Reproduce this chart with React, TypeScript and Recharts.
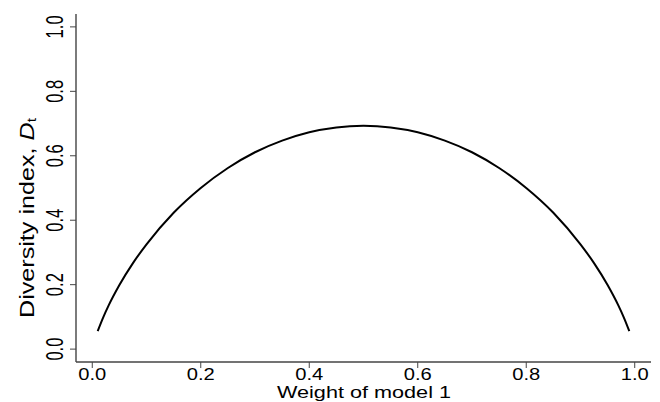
import React from "react";
import { LineChart, Line, XAxis, YAxis } from "recharts";

const weights = [0.01, 0.02, 0.03, 0.05, 0.075, 0.1, 0.15, 0.2, 0.25, 0.3, 0.35, 0.4, 0.45, 0.5, 0.55, 0.6, 0.65, 0.7, 0.75, 0.8, 0.85, 0.9, 0.925, 0.95, 0.97, 0.98, 0.99];
const diversity = [0.056, 0.098, 0.135, 0.199, 0.267, 0.325, 0.423, 0.5, 0.562, 0.611, 0.647, 0.673, 0.688, 0.693, 0.688, 0.673, 0.647, 0.611, 0.562, 0.5, 0.423, 0.325, 0.267, 0.199, 0.135, 0.098, 0.056];
const xTicks = [0, 0.2, 0.4, 0.6, 0.8, 1.0];
const yTicks = [0, 0.2, 0.4, 0.6, 0.8, 1.0];

const data = weights.map((w, i) => ({ w, d: diversity[i] }));

const FONT = "Liberation Sans, Arial, sans-serif";
const AXIS = "#444";

const XTick = (props: any) => {
  const { x, y, payload } = props;
  return (
    <text x={x} y={y + 10} textAnchor="middle" fontFamily={FONT} fontSize={16} fill="#000" textLength={28} lengthAdjust="spacingAndGlyphs">
      {payload.value.toFixed(1)}
    </text>
  );
};

const YTick = (props: any) => {
  const { x, y, payload } = props;
  return (
    <text transform={`translate(${x - 13},${y}) rotate(-90)`} textAnchor="middle" dominantBaseline="central" fontFamily={FONT} fontSize={23} fill="#000" textLength={23} lengthAdjust="spacingAndGlyphs">
      {payload.value.toFixed(1)}
    </text>
  );
};

export default function App() {
  return (
    <div style={{ position: "absolute", left: 0, top: 0, width: 660, height: 402, background: "#fff" }}>
      <LineChart width={660} height={402} data={data} margin={{ top: 14, right: 9, left: 0, bottom: 0 }}>
        <XAxis xAxisId="top" orientation="top" dataKey="w" type="number" domain={[-0.03, 1.03]} allowDataOverflow tick={false} tickLine={false} height={0} axisLine={{ stroke: AXIS, strokeWidth: 1.4 }} />
        <XAxis
          dataKey="w"
          type="number"
          domain={[-0.03, 1.03]}
          allowDataOverflow
          ticks={xTicks}
          tick={<XTick />}
          tickSize={6}
          height={40}
          axisLine={{ stroke: AXIS, strokeWidth: 1.4 }}
          tickLine={{ stroke: AXIS, strokeWidth: 1 }}
        />
        <YAxis
          type="number"
          domain={[-0.04, 1.04]}
          allowDataOverflow
          ticks={yTicks}
          tick={<YTick />}
          tickSize={6}
          width={76}
          axisLine={{ stroke: AXIS, strokeWidth: 1.4 }}
          tickLine={{ stroke: AXIS, strokeWidth: 1 }}
        />
        <Line xAxisId={0} dataKey="d" type="monotone" stroke="#000" strokeWidth={2} dot={false} isAnimationActive={false} />
        <text x={364} y={398} textAnchor="middle" fontFamily={FONT} fontSize={17} fill="#000" textLength={174} lengthAdjust="spacingAndGlyphs">
          Weight of model 1
        </text>
        <text transform="translate(26,218) rotate(-90)" textAnchor="middle" dominantBaseline="central" fontFamily={FONT} fontSize={21} fill="#000" textLength={200} lengthAdjust="spacingAndGlyphs">
          Diversity index, <tspan fontStyle="italic">D</tspan>
          <tspan fontSize={13} dy={5}>t</tspan>
        </text>
      </LineChart>
    </div>
  );
}
